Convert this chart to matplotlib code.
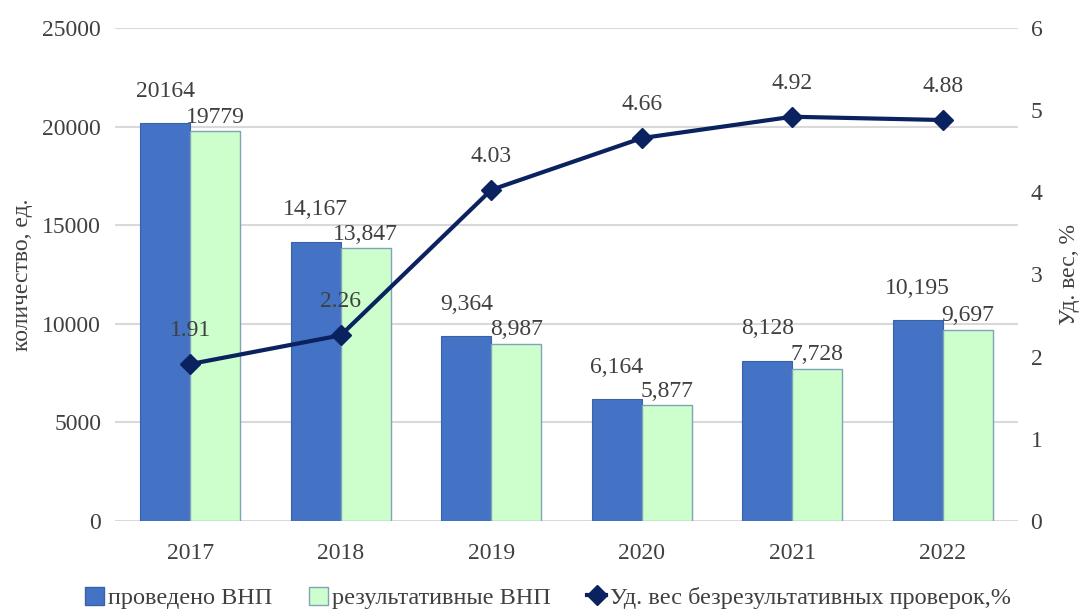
import matplotlib.pyplot as plt
import numpy as np
from matplotlib.lines import Line2D
from matplotlib.patches import Patch

years = ['2017', '2018', '2019', '2020', '2021', '2022']
conducted = [20164, 14167, 9364, 6164, 8128, 10195]
effective = [19779, 13847, 8987, 5877, 7728, 9697]
share = [1.91, 2.26, 4.03, 4.66, 4.92, 4.88]
conducted_labels = ['20164', '14,167', '9,364', '6,164', '8,128', '10,195']
effective_labels = ['19779', '13,847', '8,987', '5,877', '7,728', '9,697']

plt.rcParams['font.family'] = ['Liberation Serif', 'DejaVu Serif']
txt = '#404040'
fs = 17

fig = plt.figure(figsize=(10.81, 6.12), dpi=100)
ax = fig.add_axes([115 / 1081, 1 - 521 / 612, 903 / 1081, 493 / 612])
ax2 = ax.twinx()

x = np.arange(len(years))
w = 0.332
ax.bar(x - w / 2, conducted, w, color='#4472C4', edgecolor='#3a62a8', linewidth=0.8, zorder=2)
ax.bar(x + w / 2, effective, w, color='#CCFFCC', edgecolor='#7fa3b8', linewidth=1.0, zorder=2)

for i in range(len(years)):
    ax.annotate(conducted_labels[i], (x[i] - w / 2, conducted[i]), xytext=(0, 23),
                textcoords='offset points', ha='center', va='center', fontsize=fs, color=txt)
    ax.annotate(effective_labels[i], (x[i] + w / 2, effective[i]), xytext=(0, 10),
                textcoords='offset points', ha='center', va='center', fontsize=fs, color=txt)

ax.set_ylim(0, 25000)
ax.set_yticks(range(0, 25001, 5000))
ax.set_xlim(-0.5, len(years) - 0.5)
ax.set_xticks(x)
ax.set_xticklabels(years)
ax.grid(axis='y', color='#d9d9d9', linewidth=1.5, zorder=0)
ax.set_axisbelow(True)
ax.tick_params(length=0, labelsize=fs, colors=txt)
ax.tick_params(axis='x', pad=16)
ax.tick_params(axis='y', pad=10)
ax.set_ylabel('количество, ед.', fontsize=17, color=txt, labelpad=7)

ax2.plot(x, share, color='#0b2260', linewidth=3, marker='D', markersize=10, zorder=3)
for i in range(len(years)):
    ax2.annotate(f'{share[i]:.2f}', (x[i], share[i]), xytext=(0, 24),
                 textcoords='offset points', ha='center', va='center', fontsize=fs, color=txt)
ax2.set_ylim(0, 6)
ax2.set_yticks(range(0, 7))
ax2.tick_params(length=0, labelsize=fs, colors=txt, pad=9)
ax2.set_ylabel('Уд. вес, %', fontsize=17, color=txt, labelpad=12)

for a in (ax, ax2):
    for s in a.spines.values():
        s.set_visible(False)

handles = [
    Patch(facecolor='#4472C4', edgecolor='#3a62a8'),
    Patch(facecolor='#CCFFCC', edgecolor='#7fa3b8'),
    Line2D([], [], color='#0b2260', linewidth=3, marker='D', markersize=10),
]
labels = ['проведено ВНП', 'результативные ВНП', 'Уд. вес безрезультативных проверок,%']
fig.legend(handles, labels, loc='center', bbox_to_anchor=(548 / 1081, 1 - 598 / 612), ncol=3,
           frameon=False, fontsize=17.5, labelcolor=txt, handlelength=0.8, handleheight=0.8,
           handletextpad=0.15, columnspacing=1.5)

fig.savefig('out.png', dpi=100)
